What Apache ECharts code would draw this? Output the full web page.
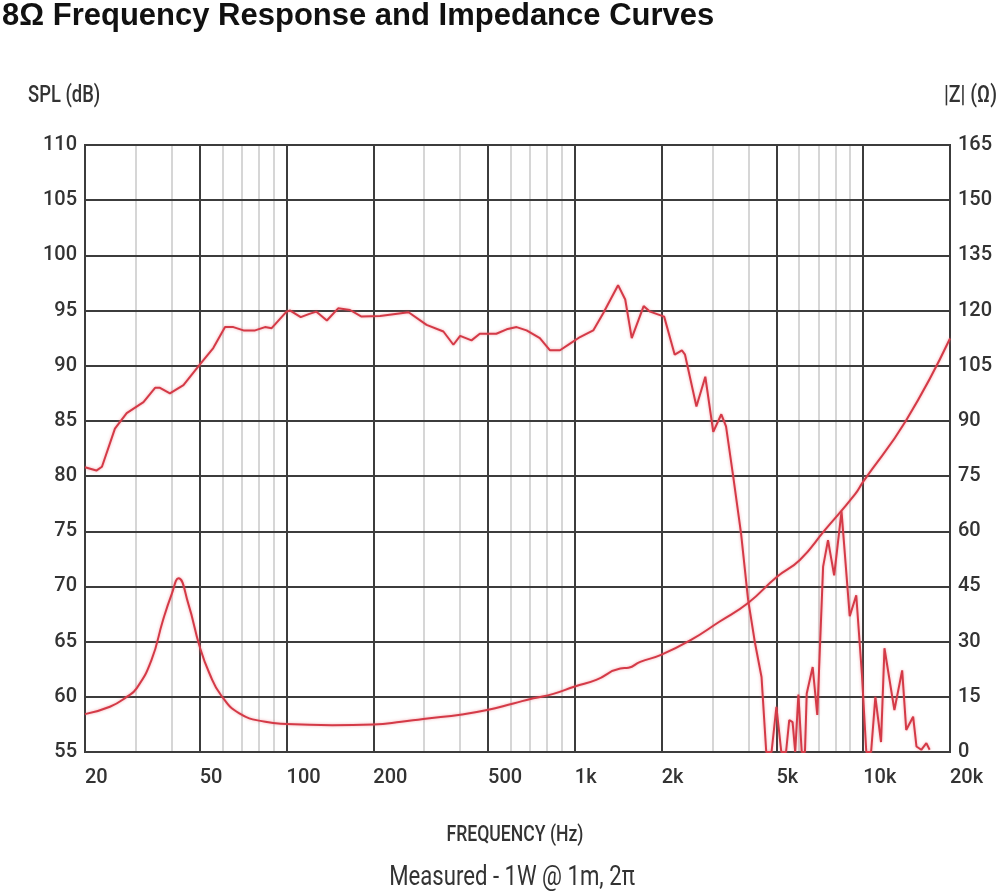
<!DOCTYPE html>
<html>
<head>
<meta charset="utf-8">
<script src="https://cdn.jsdelivr.net/npm/echarts@6/dist/echarts.min.js"></script>
<style>
html, body { margin: 0; padding: 0; background: #fff; }
#main { width: 1000px; height: 894px; }
</style>
</head>
<body>
<div id="main"></div>
<script>
// SPL curve
var splFreq = [20, 21.9, 22.9, 25.4, 27.9, 31.9, 35, 36.4, 39.4, 43.9, 50, 55.7, 61.2, 65.4, 70.9, 77.8, 84.2, 88.8,
	100, 103, 112, 120, 127, 138, 151, 166, 182, 211, 265, 306, 350, 379, 400, 438, 468, 534, 580, 628, 680, 756, 820, 888, 962,
	1042, 1158, 1254, 1412, 1495, 1575, 1732, 1824, 2040, 2220, 2350, 2410, 2640, 2834, 3020, 3220, 3344, 3540, 3770, 3988,
	4216, 4440, 4610, 4810, 5000, 5200, 5400, 5540, 5690, 5810, 5960, 6120, 6280, 6370, 6680, 6930, 7260, 7550, 7930, 8410,
	8980, 9460, 9900, 10250, 10650, 11020, 11530, 11850, 12830, 13650, 14100, 14900, 15300, 15900, 16560, 17000];
var splDb = [80.8, 80.5, 80.85, 84.3, 85.7, 86.7, 88.0, 88.0, 87.5, 88.25, 90.1, 91.6, 93.5, 93.5, 93.2, 93.2, 93.5, 93.4,
	94.9, 95.0, 94.4, 94.7, 94.9, 94.1, 95.2, 95.05, 94.45, 94.5, 94.85, 93.7, 93.1, 91.9, 92.7, 92.3, 92.9, 92.9, 93.3, 93.5, 93.2, 92.5, 91.4, 91.4, 92.0,
	92.6, 93.2, 94.75, 97.3, 96.0, 92.5, 95.4, 94.9, 94.45, 91.0, 91.4, 91.0, 86.3, 89.0, 84.0, 85.6, 84.5, 80.0, 74.8, 68.8,
	64.85, 61.8, 55, 55, 59.1, 55, 55, 57.9, 57.7, 55, 60.2, 55, 55, 60.3, 62.7, 58.35, 71.8, 74.2, 71.0, 76.8,
	67.3, 69.2, 62, 55, 55, 60.0, 55.9, 64.4, 58.8, 62.4, 57.0, 58.2, 55.5, 55.2, 55.8, 55.2];

// impedance curve
var impFreq = [20, 24.4, 27.9, 30.2, 34, 37.3, 40, 42.2, 45.6, 50, 54, 59.2, 68.6, 84.4, 100, 144, 200, 250, 298, 406, 496,
	612, 718, 842, 1000, 1186, 1437, 1535, 1685, 1990, 2520, 3170, 3988, 5000, 6030, 7360, 9360, 10000, 14100, 20000];
var impOhm = [10.3, 12.3, 15.0, 17.3, 25, 35.9, 43, 47.2, 40.4, 28.6, 21.4, 15.5, 10.5, 8.2, 7.6, 7.3, 7.5, 8.2, 9.0, 10.2, 11.4,
	13.2, 14.6, 15.8, 17.8, 19.6, 22.7, 22.9, 24.5, 26.4, 30.4, 35.4, 40.5, 47.5, 52.2, 60.3, 70.0, 73.5, 90.2, 112.4];

// frequency grid lines
var majorFreq = [20, 50, 100, 200, 500, 1000, 2000, 5000, 10000, 20000];
var minorFreq = [30, 40, 60, 70, 80, 90, 300, 400, 600, 700, 800, 900, 3000, 4000, 6000, 7000, 8000, 9000];

var labelFont = "Roboto, 'Noto Sans', sans-serif";
var dark = '#3c3c3c';
var red = '#d43a47';

function pairs(xs, ys) {
	return xs.map(function (x, i) { return [x, ys[i]]; });
}

function freqLabel(v) {
	return v >= 1000 ? (v / 1000) + 'k' : String(v);
}

var myChart = echarts.init(document.getElementById('main'));

var option = {
	backgroundColor: '#fff',
	animation: false,
	grid: {
		left: 85,
		right: 50,
		top: 145,
		bottom: 142,
		show: true,
		borderColor: dark,
		borderWidth: 2
	},
	graphic: [
		{ type: 'text', left: 2, top: 1, style: { text: '8Ω Frequency Response and Impedance Curves', font: 'bold 31px "Liberation Sans", Arial, sans-serif', fill: '#111' } },
		// axis captions, squeezed to look like the condensed face of the original
		{ type: 'text', x: 28, y: 96, scaleX: 0.8, style: { text: 'SPL (dB)', font: '500 23px ' + labelFont, fill: '#333', textVerticalAlign: 'middle' } },
		{ type: 'text', x: 997, y: 96, scaleX: 0.85, style: { text: '|Z| (Ω)', font: '500 23px ' + labelFont, fill: '#333', textAlign: 'right', textVerticalAlign: 'middle' } },
		{ type: 'text', x: 515, y: 835, scaleX: 0.8, style: { text: 'FREQUENCY (Hz)', font: '500 22px ' + labelFont, fill: '#333', textAlign: 'center', textVerticalAlign: 'middle' } },
		{ type: 'text', x: 512, y: 878, scaleX: 0.82, style: { text: 'Measured - 1W @ 1m, 2π', font: '27px ' + labelFont, fill: '#333', textAlign: 'center', textVerticalAlign: 'middle' } }
	],
	xAxis: [{
		type: 'log',
		logBase: 10,
		min: 20,
		max: 20000,
		position: 'bottom',
		axisLine: { show: true, onZero: false, lineStyle: { color: dark, width: 2 } },
		axisTick: { show: false, customValues: majorFreq },
		axisLabel: {
			customValues: majorFreq,
			formatter: freqLabel,
			align: 'left',
			margin: 16,
			fontSize: 20,
			fontWeight: 500,
			fontFamily: labelFont,
			color: '#333'
		},
		splitLine: { show: true, lineStyle: { color: dark, width: 2 } }
	}, {
		type: 'log',
		logBase: 10,
		min: 20,
		max: 20000,
		position: 'bottom',
		z: -1,
		axisLine: { show: false },
		axisTick: { show: false, customValues: minorFreq },
		axisLabel: { show: false, customValues: minorFreq },
		splitLine: { show: true, lineStyle: { color: '#d6d6d6', width: 2 } }
	}],
	yAxis: [{
		type: 'value',
		min: 55,
		max: 110,
		interval: 5,
		position: 'left',
		axisLine: { show: true, lineStyle: { color: dark, width: 2 } },
		axisTick: { show: false },
		axisLabel: { margin: 8, fontSize: 20, fontWeight: 500, fontFamily: labelFont, color: '#333' },
		splitLine: { show: true, lineStyle: { color: dark, width: 2 } }
	}, {
		type: 'value',
		min: 0,
		max: 165,
		interval: 15,
		position: 'right',
		axisLine: { show: true, lineStyle: { color: dark, width: 2 } },
		axisTick: { show: false },
		axisLabel: { margin: 8, fontSize: 20, fontWeight: 500, fontFamily: labelFont, color: '#333' },
		splitLine: { show: false }
	}],
	series: [{
		name: 'SPL',
		type: 'line',
		xAxisIndex: 0,
		yAxisIndex: 0,
		symbol: 'none',
		smooth: false,
		lineStyle: { color: red, width: 2, shadowColor: 'rgba(235, 110, 120, 0.6)', shadowBlur: 3 },
		data: pairs(splFreq, splDb)
	}, {
		name: 'Impedance',
		type: 'line',
		xAxisIndex: 0,
		yAxisIndex: 1,
		symbol: 'none',
		smooth: true,
		lineStyle: { color: red, width: 2, shadowColor: 'rgba(235, 110, 120, 0.6)', shadowBlur: 3 },
		data: pairs(impFreq, impOhm)
	}]
};

myChart.setOption(option);
</script>
</body>
</html>
